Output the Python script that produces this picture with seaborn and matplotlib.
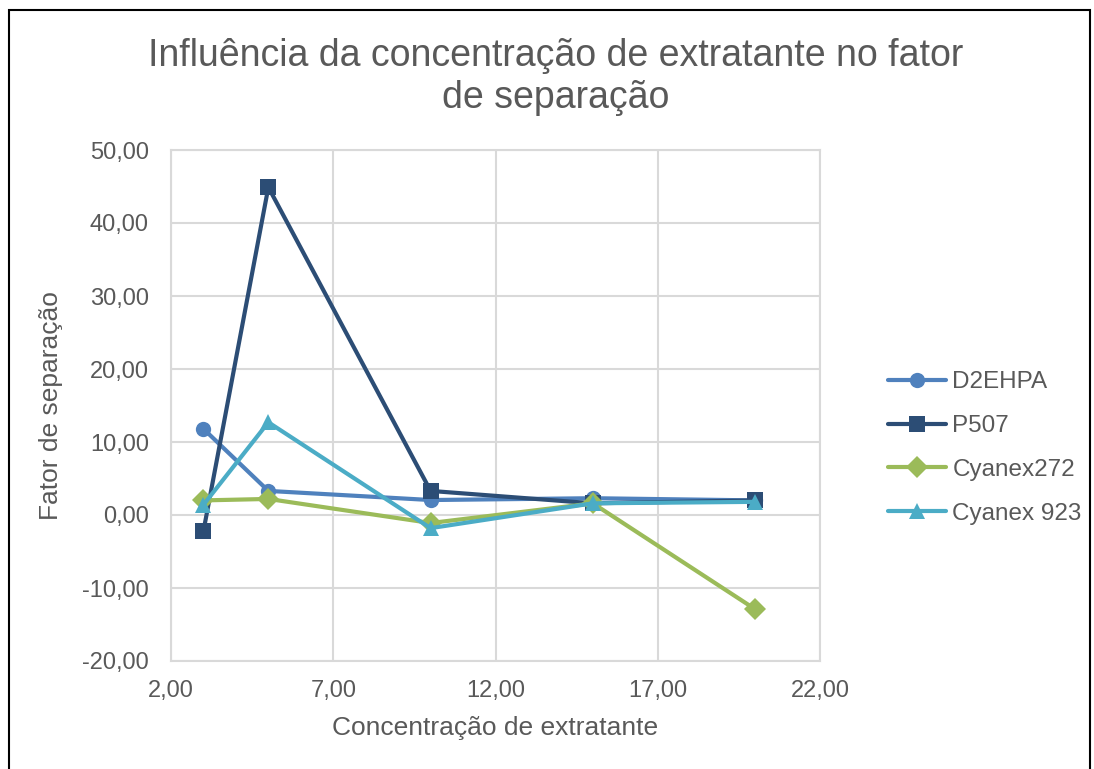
import matplotlib
matplotlib.use("Agg")
import matplotlib.pyplot as plt
from matplotlib.patches import Rectangle
from matplotlib.ticker import FuncFormatter
import pandas as pd
import seaborn as sns

concentracao = [3, 5, 10, 15, 20]
d2ehpa = [11.8, 3.3, 2.05, 2.3, 2.0]
p507 = [-2.2, 44.9, 3.3, 1.6, 2.0]
cyanex272 = [2.0, 2.2, -1.1, 1.6, -12.9]
cyanex923 = [1.4, 12.7, -1.8, 1.6, 1.8]

series_names = ["D2EHPA", "P507", "Cyanex272", "Cyanex 923"]
series_vals = [d2ehpa, p507, cyanex272, cyanex923]
colors = ["#4F81BD", "#2C4D75", "#9BBB59", "#4BACC6"]
markers = ["o", "s", "D", "^"]

rows = []
for name, vals in zip(series_names, series_vals):
    for x, y in zip(concentracao, vals):
        rows.append([x, y, name])
df = pd.DataFrame(rows, columns=["Concentracao", "Fator", "Extratante"])

sns.set_style("white")
plt.rcParams["font.family"] = ["Liberation Sans", "DejaVu Sans"]
text_color = "#595959"
grid_color = "#D9D9D9"

fig = plt.figure(figsize=(10.94, 7.69), dpi=100)
ax = fig.add_axes([171 / 1094, 1 - 661 / 769, (820 - 171) / 1094, (661 - 150) / 769])

sns.lineplot(data=df, x="Concentracao", y="Fator", hue="Extratante", style="Extratante",
             palette=colors, markers=markers, dashes=False, linewidth=3,
             markersize=11, markeredgewidth=0, ax=ax, sort=False)

ax.set_xlim(2, 22)
ax.set_ylim(-20, 50)
ax.set_xticks([2, 7, 12, 17, 22])
ax.set_yticks(range(-20, 51, 10))
fmt = FuncFormatter(lambda v, p: ("%.2f" % v).replace(".", ","))
ax.xaxis.set_major_formatter(fmt)
ax.yaxis.set_major_formatter(fmt)
ax.grid(True, color=grid_color, linewidth=1.5)
ax.set_axisbelow(True)
for s in ax.spines.values():
    s.set_color(grid_color)
    s.set_linewidth(1.5)
ax.tick_params(axis="both", length=0, labelsize=17, colors=text_color)
ax.tick_params(axis="x", pad=14)
ax.tick_params(axis="y", pad=16)

ax.set_xlabel("Concentração de extratante", fontsize=19, color=text_color, labelpad=10)
ax.set_ylabel("Fator de separação", fontsize=19, color=text_color, labelpad=14)

fig.text(556 / 1094, 1 - 77 / 769, "Influência da concentração de extratante no fator\nde separação",
         ha="center", va="center", fontsize=27, color=text_color, linespacing=1.22)

handles, labels = ax.get_legend_handles_labels()
ax.legend(handles, labels, loc="center left", bbox_to_anchor=(888 / 1094, 1 - 448 / 769),
          bbox_transform=fig.transFigure, frameon=False, fontsize=17.5,
          borderpad=0, borderaxespad=0, handlelength=2.4, labelspacing=0.9,
          handletextpad=0.25, labelcolor=text_color)

fig.patches.append(Rectangle((9 / 1094, -0.05), (1090 - 9) / 1094, 1.05 - 10 / 769,
                             transform=fig.transFigure, fill=False, edgecolor="black",
                             linewidth=1.5, figure=fig))

fig.savefig("out.png", dpi=100)
